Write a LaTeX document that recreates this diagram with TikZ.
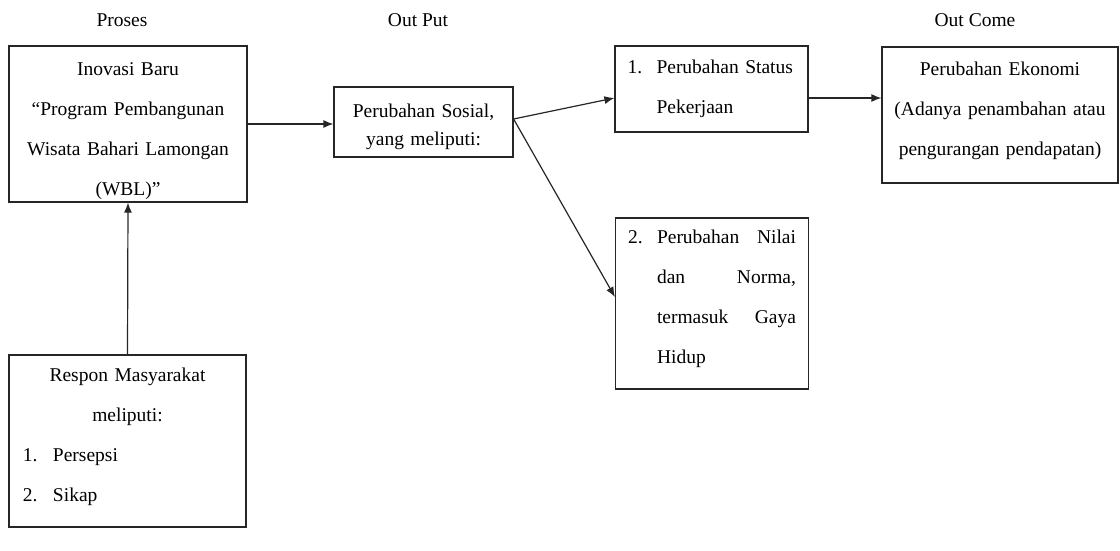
\documentclass[tikz,border=0pt]{standalone}
\usepackage{fontspec}
\setmainfont{Liberation Serif}
\usetikzlibrary{arrows.meta}
\begin{document}
\begin{tikzpicture}[x=1pt,y=-1pt,
  box/.style={draw=black!85,line width=1.2pt,rectangle,inner sep=0pt},
  txt/.style={font=\fontsize{19.5}{40}\selectfont},
  arr/.style={draw=black!85,line width=1.2pt,-{Latex[length=10pt,width=8pt]}},
  head/.style={font=\fontsize{19.5}{24}\selectfont}]
\useasboundingbox (0,0) rectangle (1120,550);

\node[head] (hP) at (122,20) {Proses};
\node[head] (hO) at (418,20) {Out Put};
\node[head] (hC) at (975,20) {Out Come};

\node[box,txt,text width=226pt,align=center,minimum width=238pt,minimum height=156pt] (A) at (128,124)
  {\rule{0pt}{27.5pt}Inovasi Baru\\“Program Pembangunan\\Wisata Bahari Lamongan\\(WBL)”};

\node[box,txt,text width=209pt,align=left,inner xsep=14pt,minimum height=172pt] (B) at (127.5,441)
  {{\centering Respon Masyarakat\\meliputi:\par}\makebox[30pt][l]{1.}Persepsi\\\makebox[30pt][l]{2.}Sikap\rule[-12pt]{0pt}{12pt}};

\node[box,font=\fontsize{19.5}{28}\selectfont,text width=170pt,align=center,minimum width=179pt,minimum height=70pt] (C) at (423.5,122)
  {\rule{0pt}{23.5pt}Perubahan Sosial,\\yang meliputi:};

\node[box,txt,text width=168pt,align=left,inner xsep=12.5pt,minimum height=86pt] (D) at (711.5,89)
  {\makebox[29pt][l]{1.}Perubahan Status\\\hspace*{29pt}Pekerjaan};

\node[box,txt,text width=168pt,align=left,inner xsep=12.5pt,minimum height=171pt] (E) at (712,303.5)
  {\makebox[29pt][l]{2.}\makebox[139pt][l]{Perubahan\hfill Nilai}\\\hspace*{29pt}\makebox[139pt][l]{dan\hfill Norma,}\\\hspace*{29pt}\makebox[139pt][l]{termasuk\hfill Gaya}\\\hspace*{29pt}Hidup\rule[-14pt]{0pt}{14pt}};

\node[box,txt,text width=226pt,align=center,minimum width=236pt,minimum height=136pt] (F) at (1000,115)
  {Perubahan Ekonomi\\(Adanya penambahan atau\\pengurangan pendapatan)\rule[-12pt]{0pt}{12pt}};

\draw[arr] (B.north) -- (A.south);
\draw[arr] (A.east) -- (A.east -| C.west);
\coordinate (Cout) at ([yshift=3pt]C.east);
\draw[arr] (Cout) -- ([yshift=-9pt]D.west);
\draw[arr] (Cout) -- ([yshift=6.5pt]E.west);
\draw[arr] ([yshift=-9pt]D.east) -- ([yshift=-9pt]D.east -| F.west);
\end{tikzpicture}
\end{document}
